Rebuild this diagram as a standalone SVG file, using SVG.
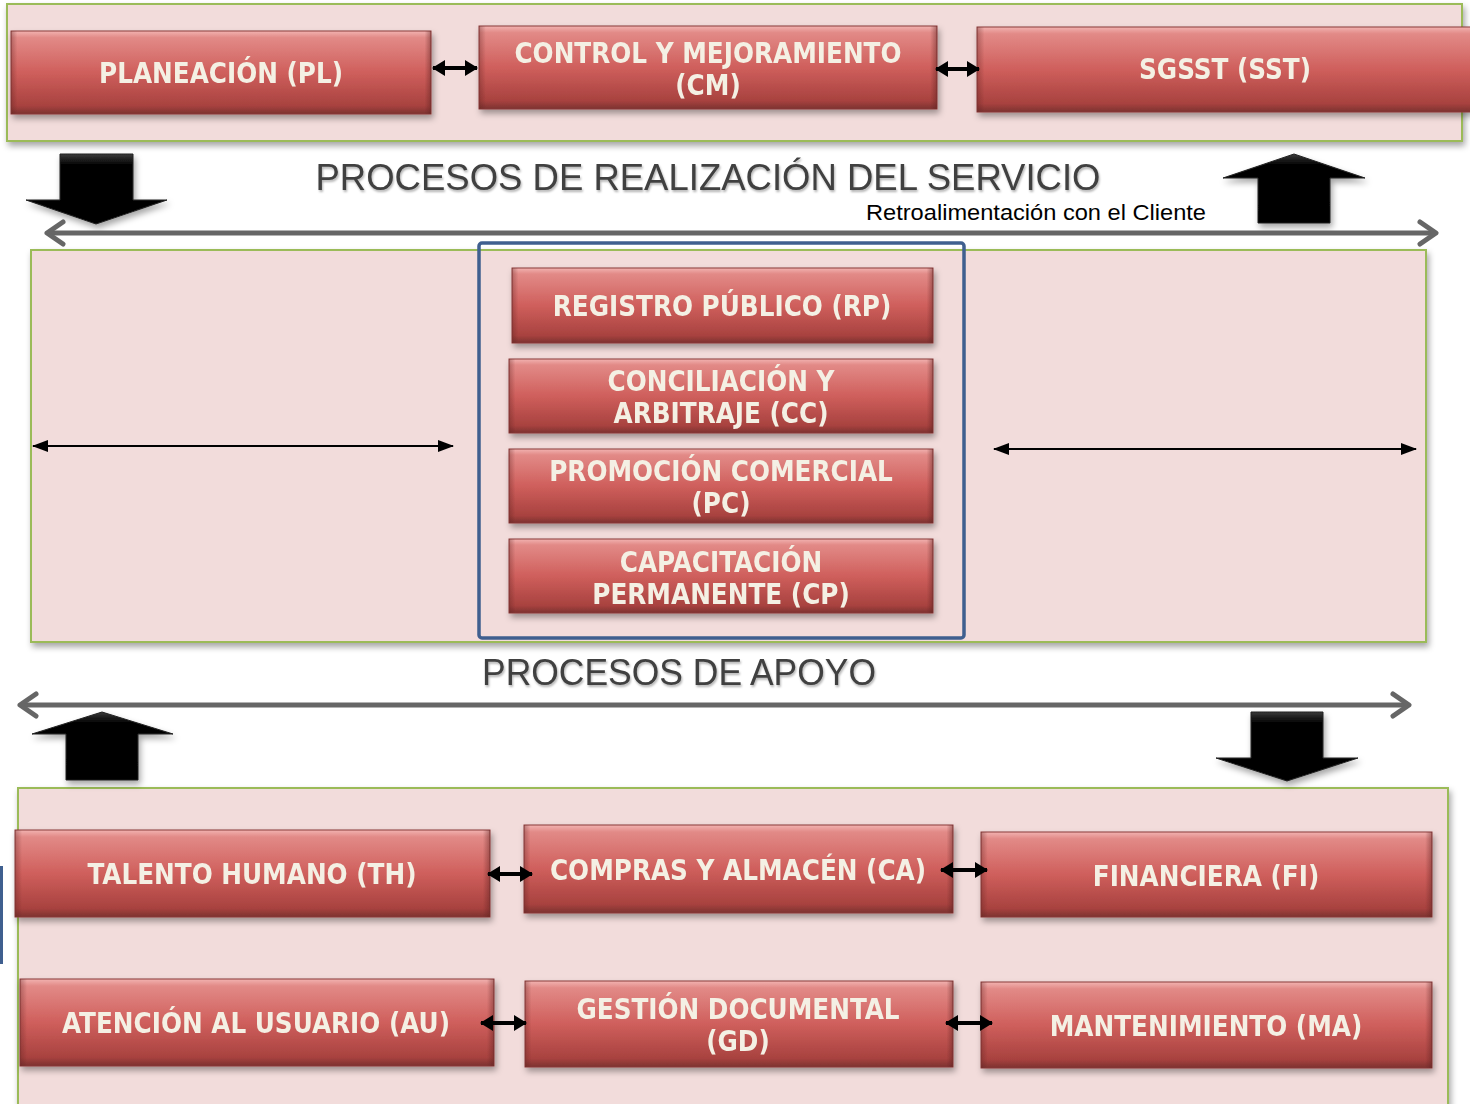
<svg xmlns="http://www.w3.org/2000/svg" width="1470" height="1104" viewBox="0 0 1470 1104">
<defs>
  <linearGradient id="gv" x1="0" y1="0" x2="0" y2="1">
    <stop offset="0" stop-color="#f2b3b1"/>
    <stop offset="0.08" stop-color="#e28a87"/>
    <stop offset="0.5" stop-color="#cf5f5c"/>
    <stop offset="0.9" stop-color="#a8423f"/>
    <stop offset="1" stop-color="#7c3230"/>
  </linearGradient>
  <linearGradient id="gh" x1="0" y1="0" x2="1" y2="0">
    <stop offset="0" stop-color="#5a1f1e" stop-opacity="0.35"/>
    <stop offset="0.015" stop-color="#5a1f1e" stop-opacity="0"/>
    <stop offset="0.985" stop-color="#5a1f1e" stop-opacity="0"/>
    <stop offset="1" stop-color="#5a1f1e" stop-opacity="0.45"/>
  </linearGradient>
  <linearGradient id="gblk" x1="0" y1="0" x2="0" y2="1">
    <stop offset="0" stop-color="#3a3a3a"/>
    <stop offset="0.15" stop-color="#050505"/>
    <stop offset="1" stop-color="#000"/>
  </linearGradient>
  <filter id="sh" x="-5%" y="-20%" width="115%" height="150%">
    <feDropShadow dx="2" dy="4" stdDeviation="3" flood-color="#000" flood-opacity="0.35"/>
  </filter>
  <filter id="tsh" x="-5%" y="-30%" width="110%" height="160%">
    <feDropShadow dx="1" dy="2" stdDeviation="1" flood-color="#000" flood-opacity="0.3"/>
  </filter>
  <marker id="bk" viewBox="0 0 13 16" refX="12" refY="8" markerWidth="13" markerHeight="16" markerUnits="userSpaceOnUse" orient="auto-start-reverse">
    <path d="M0,0 L13,8 L0,16 Z" fill="#000"/>
  </marker>
  <marker id="tk" viewBox="0 0 16 12" refX="15" refY="6" markerWidth="16" markerHeight="12" markerUnits="userSpaceOnUse" orient="auto-start-reverse">
    <path d="M0,0 L16,6 L0,12 Z" fill="#000"/>
  </marker>
  <marker id="gr" viewBox="0 0 24 28" refX="20" refY="14" markerWidth="24" markerHeight="28" markerUnits="userSpaceOnUse" orient="auto-start-reverse">
    <path d="M4,3 L20,14 L4,25" fill="none" stroke="#666" stroke-width="5" stroke-linecap="round" stroke-linejoin="round"/>
  </marker>
</defs>
<style>
  .cont{fill:#f2dcdb;stroke:#9bbb59;stroke-width:2}
  .bx{fill:url(#gv);stroke:#8a3a38;stroke-width:1}
  .bh{fill:url(#gh)}
  .lb{font-family:"DejaVu Sans Condensed","DejaVu Sans","Liberation Sans",sans-serif;font-weight:bold;font-size:27.5px;fill:#f4f0e4;text-anchor:middle}
  .ttl{font-family:"Liberation Sans",Arial,sans-serif;font-size:37px;fill:#404040;text-anchor:middle}
  .sub{font-family:"Liberation Sans",Arial,sans-serif;font-size:22px;fill:#000}
  .ca{stroke:#000;stroke-width:4;fill:none}
  .ta{stroke:#000;stroke-width:2;fill:none}
  .ga{stroke:#666;stroke-width:5;fill:none}
  .blk{fill:url(#gblk);stroke:#222;stroke-width:1}
</style>

<rect x="0" y="0" width="1470" height="1104" fill="#fff"/>

<!-- containers -->
<g id="cont-top"><rect class="cont" x="7" y="4" width="1455" height="137" filter="url(#sh)"/></g>
<g id="cont-mid"><rect class="cont" x="31" y="250" width="1395" height="392" filter="url(#sh)"/></g>
<g id="cont-bot"><rect class="cont" x="18" y="788" width="1430" height="320" filter="url(#sh)"/></g>
<rect x="0" y="866" width="3" height="98" fill="#3f5f8f"/>

<!-- titles -->
<text class="ttl" x="708" y="190" filter="url(#tsh)" textLength="785" lengthAdjust="spacingAndGlyphs">PROCESOS DE REALIZACIÓN DEL SERVICIO</text>
<text class="sub" x="866" y="220" textLength="340" lengthAdjust="spacingAndGlyphs">Retroalimentación con el Cliente</text>
<text class="ttl" x="679" y="685" filter="url(#tsh)" textLength="394" lengthAdjust="spacingAndGlyphs">PROCESOS DE APOYO</text>

<!-- block arrows -->
<g id="blk-arrows" filter="url(#sh)">
  <polygon class="blk" points="60,154 133,154 133,200 167,200 96,224 26,200 60,200"/>
  <polygon class="blk" points="1294,154 1365,178 1330,178 1330,223 1258,223 1258,178 1223,178"/>
  <polygon class="blk" points="102,712 173,734 138,734 138,780 66,780 66,734 32,734"/>
  <polygon class="blk" points="1251,712 1323,712 1323,758 1358,758 1287,781 1216,758 1251,758"/>
</g>

<!-- blue grouping box -->
<g id="core-group"><rect x="479" y="243" width="485" height="395" rx="3" fill="none" stroke="#3f5f8f" stroke-width="3.5"/></g>

<!-- nodes -->
<g id="PL" filter="url(#sh)"><rect class="bx" x="11" y="31" width="420" height="83"/><rect class="bh" x="11" y="31" width="420" height="83"/><text class="lb" x="221" y="83">PLANEACIÓN (PL)</text></g>
<g id="CM" filter="url(#sh)"><rect class="bx" x="479" y="26" width="458" height="83"/><rect class="bh" x="479" y="26" width="458" height="83"/><text class="lb" x="708" y="63">CONTROL Y MEJORAMIENTO</text><text class="lb" x="708" y="95">(CM)</text></g>
<g id="SST" filter="url(#sh)"><rect class="bx" x="977" y="27" width="500" height="85"/><rect class="bh" x="977" y="27" width="500" height="85"/><text class="lb" x="1225" y="79">SGSST (SST)</text></g>

<g id="RP" filter="url(#sh)"><rect class="bx" x="512" y="268" width="421" height="75"/><rect class="bh" x="512" y="268" width="421" height="75"/><text class="lb" x="722" y="316">REGISTRO PÚBLICO (RP)</text></g>
<g id="CC" filter="url(#sh)"><rect class="bx" x="509" y="359" width="424" height="74"/><rect class="bh" x="509" y="359" width="424" height="74"/><text class="lb" x="721" y="391">CONCILIACIÓN Y</text><text class="lb" x="721" y="423">ARBITRAJE (CC)</text></g>
<g id="PC" filter="url(#sh)"><rect class="bx" x="509" y="449" width="424" height="74"/><rect class="bh" x="509" y="449" width="424" height="74"/><text class="lb" x="721" y="481">PROMOCIÓN COMERCIAL</text><text class="lb" x="721" y="513">(PC)</text></g>
<g id="CP" filter="url(#sh)"><rect class="bx" x="509" y="539" width="424" height="74"/><rect class="bh" x="509" y="539" width="424" height="74"/><text class="lb" x="721" y="572">CAPACITACIÓN</text><text class="lb" x="721" y="604">PERMANENTE (CP)</text></g>

<g id="TH" filter="url(#sh)"><rect class="bx" x="15" y="830" width="475" height="87"/><rect class="bh" x="15" y="830" width="475" height="87"/><text class="lb" x="252" y="884">TALENTO HUMANO (TH)</text></g>
<g id="CA" filter="url(#sh)"><rect class="bx" x="524" y="825" width="429" height="88"/><rect class="bh" x="524" y="825" width="429" height="88"/><text class="lb" x="738" y="880">COMPRAS Y ALMACÉN (CA)</text></g>
<g id="FI" filter="url(#sh)"><rect class="bx" x="981" y="832" width="451" height="85"/><rect class="bh" x="981" y="832" width="451" height="85"/><text class="lb" x="1206" y="886">FINANCIERA (FI)</text></g>
<g id="AU" filter="url(#sh)"><rect class="bx" x="20" y="979" width="474" height="87"/><rect class="bh" x="20" y="979" width="474" height="87"/><text class="lb" x="256" y="1033">ATENCIÓN AL USUARIO (AU)</text></g>
<g id="GD" filter="url(#sh)"><rect class="bx" x="525" y="981" width="428" height="86"/><rect class="bh" x="525" y="981" width="428" height="86"/><text class="lb" x="738" y="1019">GESTIÓN DOCUMENTAL</text><text class="lb" x="738" y="1051">(GD)</text></g>
<g id="MA" filter="url(#sh)"><rect class="bx" x="981" y="982" width="451" height="86"/><rect class="bh" x="981" y="982" width="451" height="86"/><text class="lb" x="1206" y="1036">MANTENIMIENTO (MA)</text></g>

<!-- connectors -->
<g id="connectors">
  <line class="ca" x1="433" y1="68" x2="477" y2="68" marker-start="url(#bk)" marker-end="url(#bk)"/>
  <line class="ca" x1="936" y1="69" x2="979" y2="69" marker-start="url(#bk)" marker-end="url(#bk)"/>
  <line class="ga" x1="47" y1="233" x2="1436" y2="233" marker-start="url(#gr)" marker-end="url(#gr)"/>
  <line class="ta" x1="33" y1="446" x2="453" y2="446" marker-start="url(#tk)" marker-end="url(#tk)"/>
  <line class="ta" x1="994" y1="449" x2="1416" y2="449" marker-start="url(#tk)" marker-end="url(#tk)"/>
  <line class="ga" x1="20" y1="705" x2="1409" y2="705" marker-start="url(#gr)" marker-end="url(#gr)"/>
  <line class="ca" x1="488" y1="874" x2="532" y2="874" marker-start="url(#bk)" marker-end="url(#bk)"/>
  <line class="ca" x1="941" y1="870" x2="987" y2="870" marker-start="url(#bk)" marker-end="url(#bk)"/>
  <line class="ca" x1="481" y1="1023" x2="526" y2="1023" marker-start="url(#bk)" marker-end="url(#bk)"/>
  <line class="ca" x1="946" y1="1023" x2="992" y2="1023" marker-start="url(#bk)" marker-end="url(#bk)"/>
</g>
</svg>
